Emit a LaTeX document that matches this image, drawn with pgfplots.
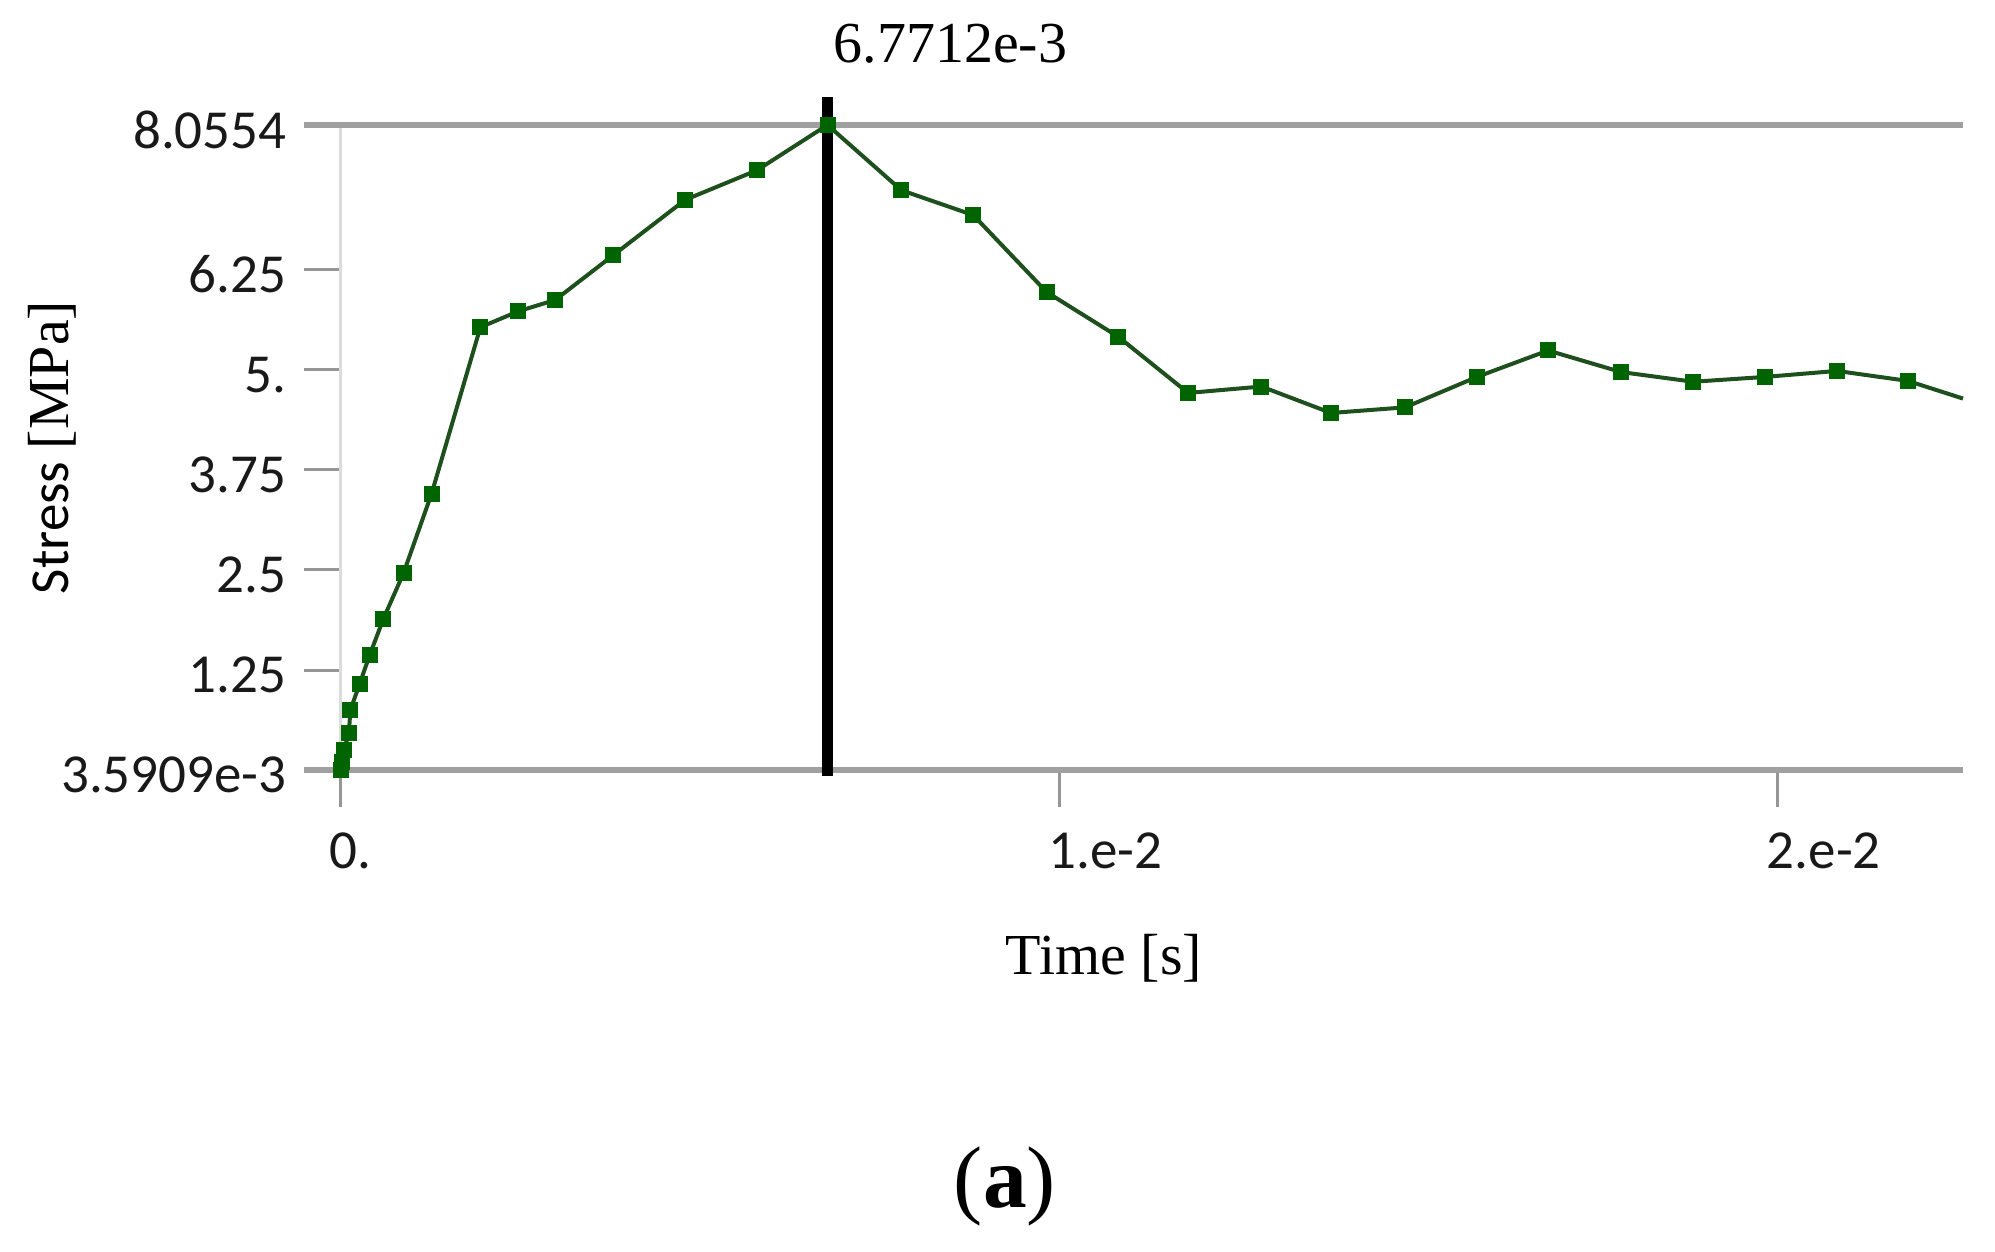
\documentclass[border=0pt]{standalone}
\usepackage{fontspec}
\setmainfont{Liberation Serif}
\newfontfamily\uifont{Carlito}
\usepackage{pgfplots}
\usepackage{pgfplotstable}
\pgfplotsset{compat=1.18}

\definecolor{linegreen}{RGB}{30,80,30}
\definecolor{markgreen}{RGB}{0,100,0}
\definecolor{gridgray}{RGB}{160,160,160}
\definecolor{axisgray}{RGB}{220,220,220}
\definecolor{tickgray}{RGB}{150,150,150}
\definecolor{labelblack}{RGB}{25,25,25}

% time [s], stress [MPa]
\pgfplotstableread{
t s
0 0.0036
0.00001 0.10
0.00004 0.25
0.00011 0.46
0.00013 0.75
0.00026 1.08
0.00040 1.44
0.00059 1.89
0.00087 2.46
0.00126 3.45
0.00194 5.53
0.00247 5.73
0.00298 5.87
0.00379 6.43
0.00479 7.12
0.00579 7.49
0.0067712 8.0554
0.00780 7.24
0.00880 6.93
0.00982 5.97
0.01082 5.41
0.01179 4.71
0.01281 4.79
0.01378 4.46
0.01481 4.53
0.01581 4.91
0.01680 5.24
0.01782 4.97
0.01882 4.85
0.01982 4.91
0.02082 4.985
0.02181 4.86
0.022575 4.64
}\stress

\begin{document}
\begin{tikzpicture}
\path[use as bounding box] (-68.2pt,-96.4pt) rectangle (330.8pt,154pt);
\begin{axis}[
    scale only axis,
    width=324.4pt, height=129pt,
    xmin=0, xmax=0.022575,
    ymin=0.0035909, ymax=8.0554,
    clip=false,
    axis line style={draw=none},
    tick pos=left, tick align=outside,
    major tick length=7.4pt,
    tick style={draw=tickgray, line width=0.6pt},
    scaled x ticks=false, scaled y ticks=false,
    xtick={0,0.01,0.02},
    xticklabels={0.,1.e-2,2.e-2},
    ytick={0.0035909,1.25,2.5,3.75,5,6.25,8.0554},
    yticklabels={3.5909e-3,1.25,2.5,3.75,5.,6.25,8.0554},
    ticklabel style={font=\uifont\fontsize{11}{13}\selectfont, text=labelblack},
    yticklabel style={anchor=east, inner sep=0pt, xshift=-3.3pt, yshift=-1pt},
    xticklabel style={anchor=north west, inner sep=0pt, xshift=-2.4pt, yshift=-5pt},
    xlabel={\fontsize{11.6}{14}\selectfont Time [s]},
    xlabel style={at={(axis description cs:0,0)}, anchor=base, xshift=152.6pt, yshift=-41pt},
    ylabel={{\uifont\fontsize{11}{13}\selectfont Stress} {\fontsize{11.6}{14}\selectfont [MPa]}},
    ylabel style={at={(axis description cs:0,0.5)}, anchor=center, rotate=0, yshift=57.8pt},
]
\draw[axisgray, line width=0.6pt] (rel axis cs:0,0) -- (rel axis cs:0,1);
\draw[gridgray, line width=1.2pt] ([xshift=-7.4pt]rel axis cs:0,1) -- (rel axis cs:1,1);
\draw[gridgray, line width=1.2pt] ([xshift=-7.4pt]rel axis cs:0,0) -- (rel axis cs:1,0);
\addplot[black, line width=2.2pt] coordinates {(0.0067712,-0.07) (0.0067712,8.405)};
\addplot[draw=linegreen, line width=0.8pt, no markers] table[x=t, y=s] {\stress};
\addplot[only marks, mark=square*, mark size=1.4pt, color=markgreen,
    restrict x to domain=0:0.0225] table[x=t, y=s] {\stress};
\node[anchor=base west, inner sep=0pt, xshift=1pt, yshift=12.4pt,
    font=\fontsize{11.6}{14}\selectfont] at (axis cs:0.0067712,8.0554) {6.7712e-3};
\end{axis}
\node[anchor=base, font=\fontsize{17.5}{20}\selectfont] at (132.8pt,-87.6pt) {(\textbf{a})};
\end{tikzpicture}
\end{document}
